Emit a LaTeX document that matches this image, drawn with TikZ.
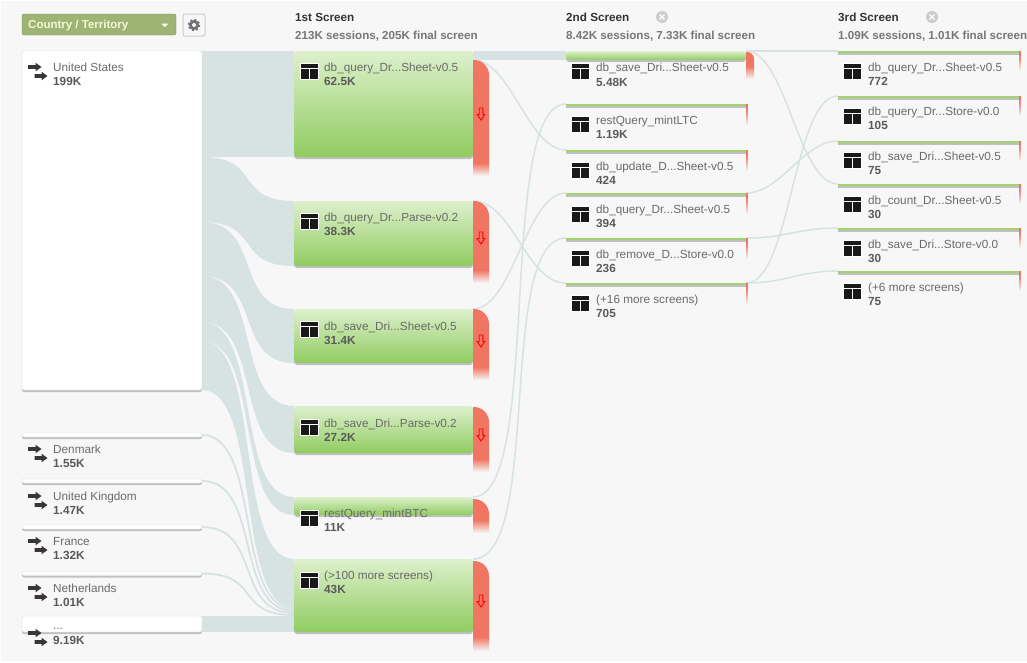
\documentclass[tikz,border=0pt]{standalone}
\usepackage{fontspec}
\setmainfont{Liberation Sans}
\usetikzlibrary{shadows}

\definecolor{pagegray}{HTML}{F7F7F7}
\definecolor{flowteal}{HTML}{D7E3E3}
\definecolor{tabred}{HTML}{F07562}
\definecolor{greenTop}{HTML}{DDF0CC}
\definecolor{greenBot}{HTML}{90CC60}
\definecolor{barGreen}{HTML}{A2D36E}
\definecolor{nameGray}{HTML}{6A6A6A}
\definecolor{valGray}{HTML}{5A5A5A}
\definecolor{subGray}{HTML}{777777}
\definecolor{iconDark}{HTML}{3A3636}
\definecolor{dimFill}{HTML}{9DB473}
\definecolor{dimEdge}{HTML}{7F9659}
\definecolor{dimText}{HTML}{F4F7D8}

\newcommand{\countval}[1]{{\color{valGray}\bfseries #1}}
\newcommand{\droptab}[6]{%
  \fill[tabred] (#1,#4) -- (#1,#3) [rounded corners=#6pt] -- (#2,#3) [sharp corners] -- (#2,#4) -- cycle;
  \shade[top color=tabred,bottom color=pagegray] (#1,#4) rectangle (#2,#5);
}

\tikzset{
  boxshadow/.style={drop shadow={shadow xshift=0pt,shadow yshift=-2pt,opacity=.22,fill=black}},
  countrybox/.style={anchor=north west,inner sep=0pt,outer sep=0pt,minimum width=180pt,draw=flowteal,fill=white,rounded corners=2pt,boxshadow},
  screenbox/.style={anchor=north west,inner sep=0pt,outer sep=0pt,minimum width=179pt,top color=greenTop,bottom color=greenBot,rounded corners=3pt,boxshadow},
  screenbar/.style={anchor=north west,inner sep=0pt,outer sep=0pt,minimum width=#1,minimum height=2pt,fill=barGreen,boxshadow},
  namelabel/.style={anchor=north west,inner sep=0pt,yshift=-1pt,align=left,text=nameGray,font=\fontsize{11.75}{14.3}\selectfont,execute at begin node={\rule{0pt}{11pt}}},
  headtitle/.style={anchor=west,inner sep=0pt,text=black!80,font=\fontsize{11.7}{14}\selectfont\bfseries},
  headsub/.style={anchor=west,inner sep=0pt,text=subGray,font=\fontsize{11.6}{14}\selectfont\bfseries},
  flowband/.style={fill=flowteal},
  flowline/.style={draw=flowteal,line width=1.5pt},
  scurve/.style={to path={.. controls +(#1,0) and +(-#1,0) .. (\tikztotarget)}},
  tableicon/.pic={
    \fill[white] (-1,-1) rectangle (18,16);
    \fill[black!90] (0,0) rectangle (17,15);
    \fill[white] (0,4) rectangle (17,5.2);
    \fill[white] (7.9,5.2) rectangle (9.1,15);
  },
  arrowpair/.pic={
    \fill[iconDark] (0,-1.8) -- (7.5,-1.8) -- (7.5,-4.3) -- (13.5,0) -- (7.5,4.3) -- (7.5,1.8) -- (0,1.8) -- cycle;
    \fill[iconDark] (6.5,7.2) -- (13.5,7.2) -- (13.5,4.7) -- (19.5,9) -- (13.5,13.3) -- (13.5,10.8) -- (6.5,10.8) -- cycle;
  },
  droparrow/.pic={
    \draw[red,line width=.9pt] (-1.8,-6) -- (1.8,-6) -- (1.8,0.5) -- (3.8,0.5) -- (0,6) -- (-3.8,0.5) -- (-1.8,0.5) -- cycle;
  },
  closeicon/.pic={
    \fill[black!20] (0,0) circle (6);
    \draw[white,line width=1.2pt] (-2.5,-2.5) -- (2.5,2.5) (-2.5,2.5) -- (2.5,-2.5);
  },
  gearicon/.pic={
    \draw[black!55,line width=2pt,dash pattern=on 2.1pt off 2.1pt] (0,0) circle (5.4);
    \fill[black!55] (0,0) circle (5);
    \fill[pagegray] (0,0) circle (2);
  },
}

\begin{document}
\begin{tikzpicture}[x=1pt,y=-1pt]
  \useasboundingbox (0,0) rectangle (1027,662);
  \fill[pagegray] (1,1) rectangle (1027,661);

  % top left controls
  \node[anchor=north west,inner sep=0pt,outer sep=0pt,minimum width=154pt,minimum height=21pt,fill=dimFill,draw=dimEdge,rounded corners=2pt] (dimbutton) at (22,14) {};
  \node[anchor=west,inner sep=0pt,text=dimText,font=\fontsize{11.5}{14}\selectfont\bfseries] (dimlabel) at (28,25.5) {Country / Territory};
  \fill[white] (161,23.5) -- (168.5,23.5) -- (164.8,27) -- cycle;
  \node[anchor=north west,inner sep=0pt,outer sep=0pt,minimum width=22pt,minimum height=22pt,fill=pagegray,draw=black!20,line width=1pt,rounded corners=2pt] (gearbutton) at (183,14) {};
  \pic at (194,25) {gearicon};

  % headers
  \node[headtitle] (head1) at (295,17) {1st Screen};
  \node[headsub] (sub1) at (295,36) {213K sessions, 205K final screen};
  \node[headtitle] (head2) at (566,17) {2nd Screen};
  \node[headsub] (sub2) at (566,36) {8.42K sessions, 7.33K final screen};
  \node[headtitle] (head3) at (838,17) {3rd Screen};
  \node[headsub] (sub3) at (838,36) {1.09K sessions, 1.01K final screen};
  \pic at (662,17) {closeicon};
  \pic at (932,17) {closeicon};

  % named places, the boxes come after the flows but tikz wants them first
  \coordinate (us1) at (202,157);
  \coordinate (us2) at (202,222);
  \coordinate (us3) at (202,276);
  \coordinate (us4) at (202,322);
  \coordinate (us5) at (202,341);
  \coordinate (us6) at (202,390);
  \coordinate (in1) at (294,609);
  \coordinate (in2) at (294,611);
  \coordinate (in3) at (294,613);
  \coordinate (in4) at (294,615);
  \coordinate (s6a) at (294,608);
  \coordinate (b2a) at (294,201);
  \coordinate (b2b) at (294,266);
  \coordinate (b3a) at (294,309);
  \coordinate (b3b) at (294,363);
  \coordinate (b4a) at (294,406);
  \coordinate (b4b) at (294,453);
  \coordinate (b5a) at (294,497);
  \coordinate (b5b) at (294,515);
  \coordinate (b6a) at (294,559);

  % flows, country to first screen
  \fill[flowband] (202,51) -- (294,51) -- (294,157) -- (us1) -- cycle;
  \fill[flowband] (us1) .. controls +(60,0) and +(-60,0) .. (b2a) -- (b2b) .. controls +(-60,0) and +(60,0) .. (us2) -- cycle;
  \fill[flowband] (us2) .. controls +(60,0) and +(-60,0) .. (b3a) -- (b3b) .. controls +(-60,0) and +(60,0) .. (us3) -- cycle;
  \fill[flowband] (us3) .. controls +(60,0) and +(-60,0) .. (b4a) -- (b4b) .. controls +(-60,0) and +(60,0) .. (us4) -- cycle;
  \fill[flowband] (us4) .. controls +(60,0) and +(-60,0) .. (b5a) -- (b5b) .. controls +(-60,0) and +(60,0) .. (us5) -- cycle;
  \fill[flowband] (us5) .. controls +(60,0) and +(-60,0) .. (b6a) -- (s6a) .. controls +(-60,0) and +(60,0) .. (us6) -- cycle;
  \fill[flowband] (202,616) -- (294,616) -- (294,632) -- (202,632) -- cycle;

  % country boxes
  \node[countrybox,minimum height=339pt] (us) at (22,51) {};
  \node[countrybox,minimum height=4pt] (dk) at (22,433) {};
  \node[countrybox,minimum height=4pt] (uk) at (22,479) {};
  \node[countrybox,minimum height=4pt] (fr) at (22,525) {};
  \node[countrybox,minimum height=4pt] (nl) at (22,571.5) {};
  \node[countrybox,minimum height=16pt] (rest) at (22,616) {};

  \path[flowline,line width=1.8pt]
  (dk.east) edge[scurve=60] (in1)
  (uk.east) edge[scurve=60] (in2)
  (fr.east) edge[scurve=60] (in3)
  (nl.east) edge[scurve=60] (in4)
  ;

  % first screen boxes
  \node[screenbox,minimum height=106pt] (s1a) at (294,51) {};
  \node[screenbox,minimum height=65pt] (s1b) at (294,201) {};
  \node[screenbox,minimum height=54pt] (s1c) at (294,309) {};
  \node[screenbox,minimum height=47pt] (s1d) at (294,406) {};
  \node[screenbox,minimum height=18pt] (s1e) at (294,497) {};
  \node[screenbox,minimum height=73pt] (s1f) at (294,559) {};

  % second and third screen bars
  \node[screenbox,minimum width=180pt,minimum height=9pt] (s2a) at (566,51) {};
  \node[screenbar=180pt] (s2b) at (566,104) {};
  \node[screenbar=180pt] (s2c) at (566,150) {};
  \node[screenbar=180pt] (s2d) at (566,193) {};
  \node[screenbar=180pt] (s2e) at (566,238) {};
  \node[screenbar=180pt] (s2f) at (566,283) {};
  \node[screenbar=181pt] (s3a) at (838,51) {};
  \node[screenbar=181pt] (s3b) at (838,96) {};
  \node[screenbar=181pt] (s3c) at (838,141) {};
  \node[screenbar=181pt] (s3d) at (838,184) {};
  \node[screenbar=181pt] (s3e) at (838,228) {};
  \node[screenbar=181pt] (s3f) at (838,271) {};

  % flows, first to second to third
  \fill[flowband] (s1a.north east) -- (s2a.north west) -- (s2a.south west) -- (s1a.north east |- s2a.south west) -- cycle;
  \path[flowline]
  (s1a.north east |- s2a.south west) edge[scurve=38] (s2c.north west)
  (s1b.north east) edge[scurve=40] (s2f.north west)
  (s1c.north east) edge[scurve=40] (s2d.north west)
  (s1e.north east) edge[scurve=70] (s2b.north west)
  (s1f.north east) edge[scurve=70] (s2e.north west)
  ;
  \path[flowline]
  (s2a.north east) edge (s3a.north west)
  (s2a.north east) edge[scurve=40] (s3d.north west)
  (s2d.north east) edge[scurve=35] (s3c.north west)
  (s2e.north east) edge[scurve=40] (s3e.north west)
  (s2f.north east) edge[scurve=45] (s3b.north west)
  (s2f.north east) edge[scurve=40] (s3f.north west)
  ;

  % drop off tabs
  \droptab{473}{489}{60}{163}{176}{15}
  \droptab{473}{489}{201}{270}{283}{15}
  \droptab{473}{489}{309}{367}{380}{15}
  \droptab{473}{489}{407}{459}{472}{15}
  \droptab{473}{489}{499}{520}{533}{15}
  \droptab{473}{489}{561}{637}{651}{15}
  \droptab{746}{754}{52}{66}{79}{7}
  \droptab{746}{747.5}{104}{110}{125}{0}
  \droptab{746}{747.5}{150}{156}{171}{0}
  \droptab{746}{747.5}{193}{199}{214}{0}
  \droptab{746}{747.5}{238}{244}{259}{0}
  \droptab{746}{747.5}{283}{289}{304}{0}
  \droptab{1019}{1020.5}{51}{56}{71}{0}
  \droptab{1019}{1020.5}{96}{101}{116}{0}
  \droptab{1019}{1020.5}{141}{146}{161}{0}
  \droptab{1019}{1020.5}{184}{189}{204}{0}
  \droptab{1019}{1020.5}{228}{233}{248}{0}
  \droptab{1019}{1020.5}{271}{276}{291}{0}
  \pic at (481,114) {droparrow};
  \pic at (481,238) {droparrow};
  \pic at (481,341) {droparrow};
  \pic at (481,435) {droparrow};
  \pic at (481,601) {droparrow};

  % country labels
  \pic at (28,67) {arrowpair};
  \node[namelabel] (usname) at (53,61.5) {United States\\\countval{199K}};
  \pic at (28,449) {arrowpair};
  \node[namelabel] (dkname) at (53,443.5) {Denmark\\\countval{1.55K}};
  \pic at (28,496) {arrowpair};
  \node[namelabel] (ukname) at (53,490.5) {United Kingdom\\\countval{1.47K}};
  \pic at (28,541) {arrowpair};
  \node[namelabel] (frname) at (53,536) {France\\\countval{1.32K}};
  \pic at (28,588) {arrowpair};
  \node[namelabel] (nlname) at (53,582.5) {Netherlands\\\countval{1.01K}};
  \pic at (28,633) {arrowpair};
  \node[namelabel] (restname) at (53,627.5) {...\\\countval{9.19K}};

  % first screen labels
  \pic at (301,64) {tableicon};
  \node[namelabel] (s1aname) at (324,61.5) {db\_query\_Dr...Sheet-v0.5\\\countval{62.5K}};
  \pic at (301,214) {tableicon};
  \node[namelabel] (s1bname) at (324,211.5) {db\_query\_Dr...Parse-v0.2\\\countval{38.3K}};
  \pic at (301,322) {tableicon};
  \node[namelabel] (s1cname) at (324,320.5) {db\_save\_Dri...Sheet-v0.5\\\countval{31.4K}};
  \pic at (301,420) {tableicon};
  \node[namelabel] (s1dname) at (324,417.5) {db\_save\_Dri...Parse-v0.2\\\countval{27.2K}};
  \pic at (301,511) {tableicon};
  \node[namelabel] (s1ename) at (324,507.5) {restQuery\_mintBTC\\\countval{11K}};
  \pic at (301,573) {tableicon};
  \node[namelabel] (s1fname) at (324,569.5) {(>100 more screens)\\\countval{43K}};

  % second screen labels
  \pic at (572,64) {tableicon};
  \node[namelabel] (s2aname) at (596,62) {db\_save\_Dri...Sheet-v0.5\\\countval{5.48K}};
  \pic at (572,117) {tableicon};
  \node[namelabel] (s2bname) at (596,114.5) {restQuery\_mintLTC\\\countval{1.19K}};
  \pic at (572,163) {tableicon};
  \node[namelabel] (s2cname) at (596,160.5) {db\_update\_D...Sheet-v0.5\\\countval{424}};
  \pic at (572,207) {tableicon};
  \node[namelabel] (s2dname) at (596,203.5) {db\_query\_Dr...Sheet-v0.5\\\countval{394}};
  \pic at (572,251) {tableicon};
  \node[namelabel] (s2ename) at (596,248.5) {db\_remove\_D...Store-v0.0\\\countval{236}};
  \pic at (572,296) {tableicon};
  \node[namelabel] (s2fname) at (596,293.5) {(+16 more screens)\\\countval{705}};

  % third screen labels
  \pic at (844,64) {tableicon};
  \node[namelabel] (s3aname) at (868,61.5) {db\_query\_Dr...Sheet-v0.5\\\countval{772}};
  \pic at (844,109) {tableicon};
  \node[namelabel] (s3bname) at (868,105.5) {db\_query\_Dr...Store-v0.0\\\countval{105}};
  \pic at (844,153) {tableicon};
  \node[namelabel] (s3cname) at (868,150.5) {db\_save\_Dri...Sheet-v0.5\\\countval{75}};
  \pic at (844,197) {tableicon};
  \node[namelabel] (s3dname) at (868,194.5) {db\_count\_Dr...Sheet-v0.5\\\countval{30}};
  \pic at (844,241) {tableicon};
  \node[namelabel] (s3ename) at (868,238.5) {db\_save\_Dri...Store-v0.0\\\countval{30}};
  \pic at (844,284) {tableicon};
  \node[namelabel] (s3fname) at (868,281.5) {(+6 more screens)\\\countval{75}};
\end{tikzpicture}
\end{document}
